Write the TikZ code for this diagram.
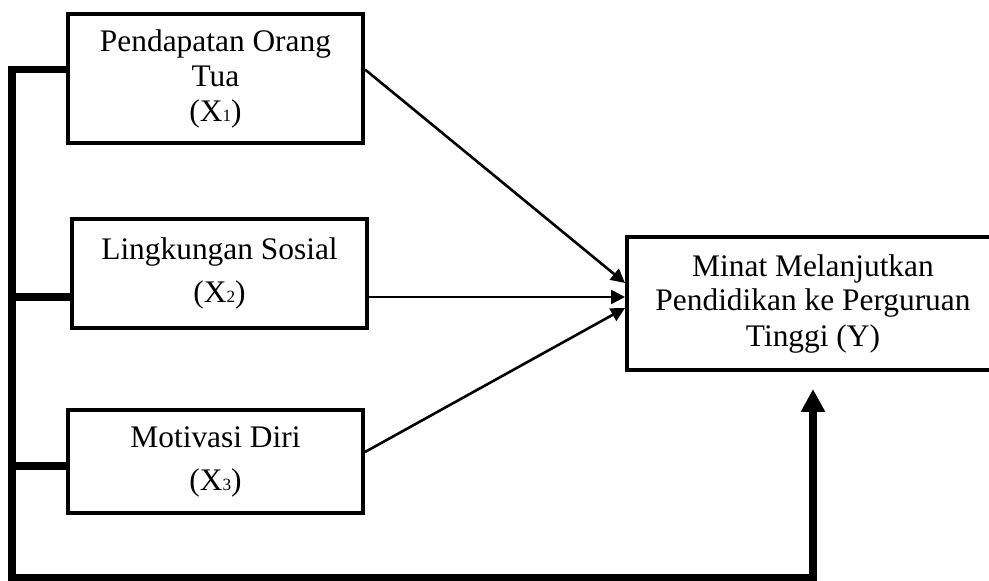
\documentclass[tikz,border=0pt]{standalone}
\usepackage{fontspec}
\setmainfont{Liberation Serif}
\usetikzlibrary{arrows.meta}
\newcommand{\subn}[1]{{\fontsize{8.6pt}{8.6pt}\selectfont #1}}
\begin{document}
\begin{tikzpicture}
  [x=0.5pt, y=-0.5pt, >={Triangle[length=7pt,width=7pt]},
    every var/.style={
      rectangle,
      draw,
      line width=2pt,
      align=center,
      inner sep=0pt,
      font=\fontsize{15.7pt}{17.5pt}\selectfont
    },
    link/.style={->, line width=1.3pt},
    bus/.style={line width=3.9pt},
  ]
\useasboundingbox (0,0) rectangle (989,581);

% Draw variable boxes
\node [every var, minimum width=147.5pt, minimum height=64.5pt] (x1) at (215.5,78.5)
  {Pendapatan Orang\\Tua\\(X\subn{1})};
\node [every var, minimum width=147.5pt, minimum height=54.5pt] (x2) at (219.5,273.5)
  {Lingkungan Sosial\\[4pt](X\subn{2})};
\node [every var, minimum width=147.5pt, minimum height=51.5pt] (x3) at (215.5,461.5)
  {Motivasi Diri\\[4pt](X\subn{3})};
\node [every var, minimum width=186pt, minimum height=66.5pt] (y) at (813,303.5)
  {Minat Melanjutkan\\Pendidikan ke Perguruan\\Tinggi (Y)};

% Bus on the left and bottom
\coordinate (bus-top) at (12,69.5);
\coordinate (bus-bottom) at (12,578);
\draw [bus, -{Triangle[length=11.5pt,width=11.5pt]}, shorten >=8.5pt]
  (x1.west |- bus-top) -- (bus-top) -- (bus-bottom) -| (y.south);

% Stubs to the bus
\foreach \i/\s in {2/297,3/466}
  \draw [bus] (12,\s) -- (x\i.west |- 0,\s);

% Connect variables with the target
\draw [link] (x1.east |- bus-top) -- ([yshift=10.25pt]y.west);
\draw [link] (x2.east |- 0,297) -- (y.west |- 0,297);
\draw [link] ([yshift=4.75pt]x3.east) -- ([yshift=-2.25pt]y.west);
\end{tikzpicture}
\end{document}
